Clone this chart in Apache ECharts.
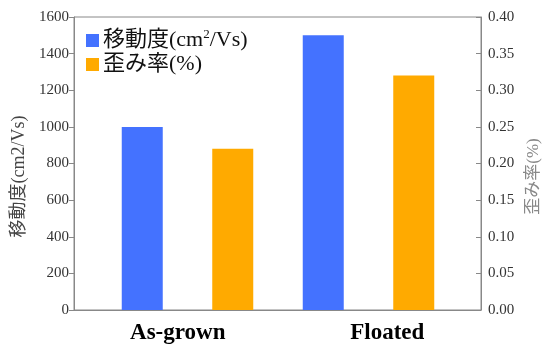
<!DOCTYPE html>
<html><head><meta charset="utf-8">
<script src="https://cdn.jsdelivr.net/npm/echarts@6/dist/echarts.min.js"></script>
<style>html,body{margin:0;padding:0;background:#fff}#c{width:542px;height:344px}</style>
</head><body><div id="c"></div>
<script>
var categories = ['As-grown', 'Floated'];
var mobilityName = '移動度(cm2/Vs)';
var strainName = '歪み率(%)';
var mobility = [1000, 1500];
var strain = [0.22, 0.32];
var leftTicks = {min: 0, max: 1600, interval: 200};
var rightTicks = {min: 0, max: 0.4, interval: 0.05};

var slots = [];
var mobSlots = [], strSlots = [];
categories.forEach(function (c, i) {
  slots.push(c + '-m', c + '-s');
  mobSlots.push(mobility[i], '-');
  strSlots.push('-', strain[i]);
});

var serif = '"Liberation Serif", "Noto Sans CJK JP", serif';
var chart = echarts.init(document.getElementById('c'));
chart.setOption({
  animation: false,
  textStyle: {fontFamily: serif},
  grid: [
    {left: 74, right: 61, top: 17, bottom: 34, show: true, borderColor: '#888', borderWidth: 1,
     containLabel: false, outerBoundsMode: 'none'},
    {left: 97, right: 83, top: 17, bottom: 34, containLabel: false, outerBoundsMode: 'none'}
  ],
  legend: {
    orient: 'vertical', left: 81, top: 23, itemWidth: 13, itemHeight: 13, itemGap: 2,
    icon: 'rect',
    data: [mobilityName, strainName],
    formatter: function (n) { return n === mobilityName ? '移動度(cm{sup|2}/Vs)' : n; },
    textStyle: {fontSize: 22, color: '#111', fontFamily: serif, padding: [0, 0, 0, -1],
      rich: {sup: {fontSize: 13, verticalAlign: 'top', padding: [0, 0, 12, 0], fontFamily: serif, color: '#111'}}}
  },
  xAxis: [
    {type: 'category', gridIndex: 0, data: categories,
     axisLine: {lineStyle: {color: '#888'}}, axisTick: {show: false},
     axisLabel: {fontSize: 23, fontWeight: 'bold', color: '#000', margin: 12, fontFamily: serif,
       formatter: function (v, i) { return i === 0 ? '{a|' + v + '}' : '{b|' + v + '}'; },
       rich: {a: {fontSize: 23, fontWeight: 'bold', color: '#000', fontFamily: serif, padding: [0, 0, 0, 4]},
              b: {fontSize: 23, fontWeight: 'bold', color: '#000', fontFamily: serif, padding: [0, 0, 0, 16]}}}},
    {type: 'category', gridIndex: 1, data: slots, show: false}
  ],
  yAxis: [
    {type: 'value', gridIndex: 0, min: leftTicks.min, max: leftTicks.max, interval: leftTicks.interval,
     position: 'left', name: mobilityName, nameLocation: 'middle', nameGap: 40, nameRotate: 90,
     nameTextStyle: {fontSize: 18, color: '#444', fontFamily: serif, padding: [0, 26, 0, 0]},
     axisLine: {show: true, lineStyle: {color: '#888'}}, axisTick: {show: true, length: 5, lineStyle: {color: '#888'}},
     splitLine: {show: false}, axisLabel: {fontSize: 15, color: '#333', margin: 5, fontFamily: serif,
       formatter: function (v) { return String(v); }}},
    {type: 'value', gridIndex: 0, min: rightTicks.min, max: rightTicks.max, interval: rightTicks.interval,
     position: 'right', name: strainName, nameLocation: 'middle', nameGap: 43, nameRotate: 90,
     nameTextStyle: {fontSize: 17, color: '#888', fontFamily: serif, padding: [0, 26, 0, 0]},
     axisLine: {show: true, lineStyle: {color: '#888'}}, axisTick: {show: true, inside: true, length: 5, lineStyle: {color: '#888'}},
     splitLine: {show: false},
     axisLabel: {fontSize: 15, color: '#333', margin: 7, fontFamily: serif, formatter: function (v) { return v.toFixed(2); }}},
    {type: 'value', gridIndex: 1, min: leftTicks.min, max: leftTicks.max, show: false, splitLine: {show: false}},
    {type: 'value', gridIndex: 1, min: rightTicks.min, max: rightTicks.max, show: false, splitLine: {show: false}}
  ],
  series: [
    {name: mobilityName, type: 'bar', xAxisIndex: 1, yAxisIndex: 2, data: mobSlots, barWidth: 41, barGap: '-100%',
     itemStyle: {color: '#4472FF'}},
    {name: strainName, type: 'bar', xAxisIndex: 1, yAxisIndex: 3, data: strSlots, barWidth: 41, barGap: '-100%',
     itemStyle: {color: '#FFAA00'}}
  ]
});
</script></body></html>
